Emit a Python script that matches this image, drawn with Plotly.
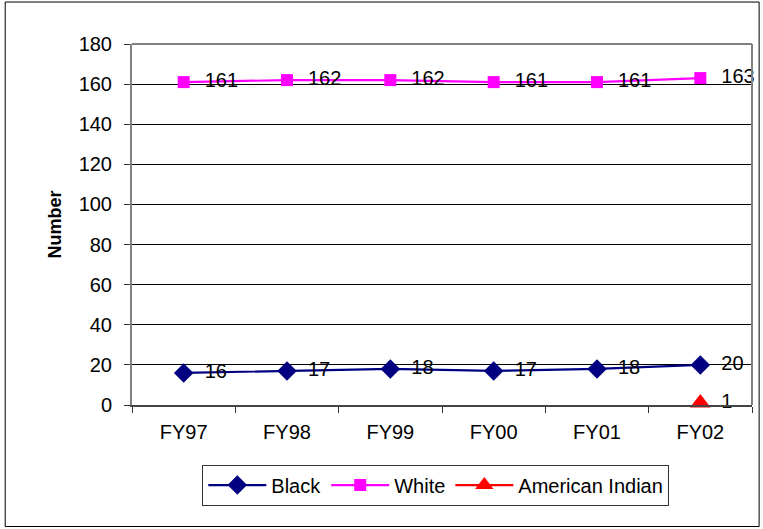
import plotly.graph_objects as go

years = ["FY97", "FY98", "FY99", "FY00", "FY01", "FY02"]
black = [16, 17, 18, 17, 18, 20]
white = [161, 162, 162, 161, 161, 163]
american_indian = [None, None, None, None, None, 1]
y_ticks = [0, 20, 40, 60, 80, 100, 120, 140, 160, 180]

FONT = "Liberation Sans, Arial, sans-serif"

fig = go.Figure()

series = [
    ("Black", black, "#000080", "diamond", 15),
    ("White", white, "#FF00FF", "square", 12),
    ("American Indian", american_indian, "#FF0000", "triangle-up", 18),
]
for name, vals, color, symbol, size in series:
    fig.add_trace(go.Scatter(
        x=years, y=vals, name=name,
        mode="lines+markers",
        line=dict(color=color, width=2.2),
        marker=dict(symbol=symbol, size=size, color=color),
        cliponaxis=False,
    ))

# value labels, pushed right of each point by an invisible spacer marker
for name, vals, color, symbol, size in series:
    fig.add_trace(go.Scatter(
        x=years, y=vals, mode="markers+text", showlegend=False,
        hoverinfo="skip",
        marker=dict(size=32, opacity=0),
        text=[("" if v is None else str(v)) for v in vals],
        textposition="middle right",
        textfont=dict(family=FONT, size=20, color="black"),
        cliponaxis=False,
    ))

fig.update_layout(
    width=763, height=529,
    margin=dict(l=132, r=11, t=44, b=124),
    paper_bgcolor="white", plot_bgcolor="white",
    font=dict(family=FONT, size=20, color="black"),
    showlegend=True,
    legend=dict(
        orientation="h", x=0.49, xanchor="center", xref="paper",
        y=-0.165, yanchor="top",
        bordercolor="#333333", borderwidth=1,
        font=dict(family=FONT, size=20),
        itemwidth=58, tracegroupgap=0,
    ),
    xaxis=dict(
        type="category", categoryorder="array", categoryarray=years,
        tickson="boundaries", ticks="outside", ticklen=6, tickcolor="#333333",
        showline=True, linecolor="#444444", linewidth=1.5,
        showgrid=False, tickfont=dict(size=20), ticklabelstandoff=8,
        range=[-0.5, 5.5],
    ),
    yaxis=dict(
        range=[0, 180], tickvals=y_ticks,
        ticks="outside", ticklen=6, tickcolor="#333333",
        showline=True, linecolor="#808080", linewidth=2,
        showgrid=True, gridcolor="#000000", gridwidth=1,
        zeroline=False, tickfont=dict(size=20), ticklabelstandoff=8,
        title=dict(text="<b>Number</b>", font=dict(size=18), standoff=12),
    ),
    shapes=[
        # plot area frame (top and right edges)
        dict(type="line", xref="paper", yref="paper", x0=0, x1=1, y0=1, y1=1,
             line=dict(color="#808080", width=2)),
        dict(type="line", xref="paper", yref="paper", x0=1, x1=1, y0=0, y1=1,
             line=dict(color="#808080", width=2)),
        # outer chart border
        dict(type="rect", xref="paper", yref="paper",
             x0=-0.2045, x1=1.0115, y0=-0.3366, y1=1.1163,
             line=dict(color="#000000", width=1)),
    ],
)

fig.write_html("out.html")
